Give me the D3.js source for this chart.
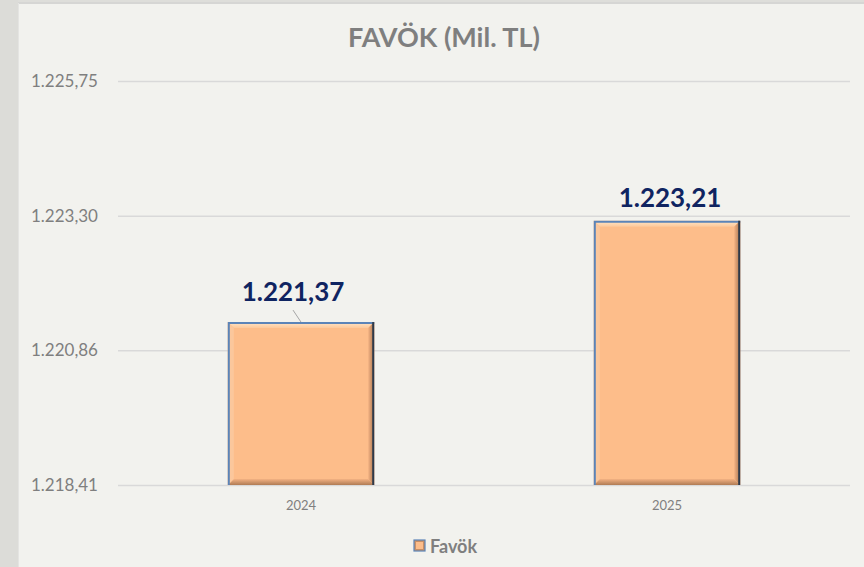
<!DOCTYPE html>
<html>
<head>
<meta charset="utf-8">
<script src="https://cdn.jsdelivr.net/npm/d3@7"></script>
<style>
  body { margin: 0; background: #dededa; }
  svg { display: block; }
</style>
</head>
<body>
<div id="chart"></div>
<script>
// Chart data
const categories = ["2024", "2025"];
const favokValues = [1221.37, 1223.21];
const yTicks = [1218.41, 1220.86, 1223.30, 1225.75];
const seriesName = "Favök";
const chartTitle = "FAVÖK (Mil. TL)";

const width = 864, height = 567;
const plot = {left: 118, right: 850, top: 81, bottom: 485};

// Turkish number format: 1.221,37
const trLocale = d3.formatLocale({decimal: ",", thousands: ".", grouping: [3], currency: ["", " TL"]});
const fmt = trLocale.format(",.2f");

let svg = d3.select("#chart")
            .append("svg")
            .attr("width", width)
            .attr("height", height);

// light texture strip on the left
svg.append("rect").attr("x", 0).attr("y", 0).attr("width", 18).attr("height", height).attr("fill", "#dcdcd8");
// chart panel
svg.append("rect").attr("x", 18).attr("y", 3).attr("width", width - 18).attr("height", height - 3).attr("fill", "#f2f2ee");
svg.append("line").attr("x1", 18).attr("x2", width).attr("y1", 3).attr("y2", 3)
   .attr("stroke", "#d6d6d4").attr("stroke-width", 2);
svg.append("line").attr("x1", 18.5).attr("x2", 18.5).attr("y1", 3).attr("y2", height)
   .attr("stroke", "#e4e4e2").attr("stroke-width", 1);

// Scales
let xScale = d3.scaleBand()
               .domain(categories)
               .range([plot.left, plot.right])
               .paddingInner(0.6)
               .paddingOuter(0.3);

let yScale = d3.scaleLinear()
               .domain([yTicks[0], yTicks[yTicks.length - 1]])
               .range([plot.bottom, plot.top]);

// Gridlines + y labels
let yAxis = svg.append("g")
               .attr("transform", `translate(${plot.left},0)`)
               .call(d3.axisLeft(yScale).tickValues(yTicks).tickFormat(fmt)
                       .tickSize(-(plot.right - plot.left)).tickPadding(20));
yAxis.select(".domain").remove();
yAxis.selectAll(".tick line").attr("stroke", "#d9d9d9").attr("stroke-width", 1.5);
yAxis.selectAll(".tick text")
     .attr("fill", "#7f7f7f")
     .style("font-family", "Lato, 'Open Sans', sans-serif")
     .style("font-size", "17px");

// x labels
let xAxis = svg.append("g")
               .attr("transform", `translate(0,${plot.bottom})`)
               .call(d3.axisBottom(xScale).tickSize(0).tickPadding(16));
xAxis.select(".domain").remove();
xAxis.selectAll(".tick text")
     .attr("fill", "#7f7f7f")
     .style("font-family", "Lato, 'Open Sans', sans-serif")
     .style("font-size", "13px");

// Gradients for the bevelled bar edges
const defs = svg.append("defs");
const gradRight = defs.append("linearGradient").attr("id", "bevRight");
gradRight.append("stop").attr("offset", "0%").attr("stop-color", "#f3b283");
gradRight.append("stop").attr("offset", "100%").attr("stop-color", "#a8754f");
const gradBottom = defs.append("linearGradient").attr("id", "bevBottom")
                       .attr("x1", 0).attr("y1", 0).attr("x2", 0).attr("y2", 1);
gradBottom.append("stop").attr("offset", "0%").attr("stop-color", "#f3b283");
gradBottom.append("stop").attr("offset", "100%").attr("stop-color", "#b07c55");
const gradTop = defs.append("linearGradient").attr("id", "bevTop")
                    .attr("x1", 0).attr("y1", 0).attr("x2", 0).attr("y2", 1);
gradTop.append("stop").attr("offset", "0%").attr("stop-color", "#ffe6c8");
gradTop.append("stop").attr("offset", "100%").attr("stop-color", "#fdc89a");

// Bars with a bevel look
const bw = xScale.bandwidth();
const bevel = 6;
const bars = svg.selectAll(".bar")
                .data(categories.map((c, i) => ({cat: c, value: favokValues[i]})))
                .enter()
                .append("g")
                .attr("class", "bar");

bars.append("rect")
    .attr("x", d => xScale(d.cat))
    .attr("y", d => yScale(d.value))
    .attr("width", bw)
    .attr("height", d => plot.bottom - yScale(d.value))
    .attr("fill", "#fdbd8a");
// top bevel (light)
bars.append("path")
    .attr("d", d => {
        const x0 = xScale(d.cat), y0 = yScale(d.value);
        return `M${x0},${y0}H${x0 + bw}L${x0 + bw - bevel},${y0 + bevel}H${x0 + bevel}Z`;
    })
    .attr("fill", "url(#bevTop)");
// right bevel (dark)
bars.append("path")
    .attr("d", d => {
        const x0 = xScale(d.cat), y0 = yScale(d.value);
        return `M${x0 + bw},${y0}V${plot.bottom}L${x0 + bw - bevel},${plot.bottom - bevel}V${y0 + bevel}Z`;
    })
    .attr("fill", "url(#bevRight)");
// bottom bevel (dark)
bars.append("path")
    .attr("d", d => {
        const x0 = xScale(d.cat);
        return `M${x0},${plot.bottom}H${x0 + bw}L${x0 + bw - bevel},${plot.bottom - bevel}H${x0 + bevel}Z`;
    })
    .attr("fill", "url(#bevBottom)");
// left bevel (mid)
bars.append("path")
    .attr("d", d => {
        const x0 = xScale(d.cat), y0 = yScale(d.value);
        return `M${x0},${y0}V${plot.bottom}L${x0 + bevel},${plot.bottom - bevel}V${y0 + bevel}Z`;
    })
    .attr("fill", "#fbc79c");
// blue-ish outline on top/left, dark on right
bars.append("path")
    .attr("d", d => {
        const x0 = xScale(d.cat), y0 = yScale(d.value);
        return `M${x0 + 1},${plot.bottom}V${y0 + 1}H${x0 + bw}`;
    })
    .attr("fill", "none").attr("stroke", "#5b84b8").attr("stroke-width", 2);
bars.append("line")
    .attr("x1", d => xScale(d.cat) + bw - 1).attr("x2", d => xScale(d.cat) + bw - 1)
    .attr("y1", d => yScale(d.value)).attr("y2", plot.bottom)
    .attr("stroke", "#2e3a4a").attr("stroke-width", 2);

// Data labels
const labelOffsets = [{dx: -8, dy: -21}, {dx: 3, dy: -14}];
bars.append("text")
    .attr("x", (d, i) => xScale(d.cat) + bw / 2 + labelOffsets[i].dx)
    .attr("y", (d, i) => yScale(d.value) + labelOffsets[i].dy)
    .attr("text-anchor", "middle")
    .attr("fill", "#0f2461")
    .style("font-family", "Lato, 'Open Sans', sans-serif")
    .style("font-weight", "bold")
    .style("font-size", "26px")
    .text(d => fmt(d.value));
// leader line for the first label
svg.append("line")
   .attr("x1", xScale(categories[0]) + bw / 2 - 8)
   .attr("y1", yScale(favokValues[0]) - 12)
   .attr("x2", xScale(categories[0]) + bw / 2)
   .attr("y2", yScale(favokValues[0]))
   .attr("stroke", "#a6a6a6").attr("stroke-width", 1);

// Title
svg.append("text")
   .attr("x", 444)
   .attr("y", 47)
   .attr("text-anchor", "middle")
   .attr("fill", "#7f7f7f")
   .style("font-family", "Lato, 'Open Sans', sans-serif")
   .style("font-weight", "bold")
   .style("font-size", "27px")
   .text(chartTitle);

// Legend
const legend = svg.append("g").attr("transform", "translate(414,540)");
legend.append("rect").attr("width", 11).attr("height", 11)
      .attr("fill", "#c98f65").attr("stroke", "#5b84b8").attr("stroke-width", 1.2);
legend.append("rect").attr("x", 2).attr("y", 2).attr("width", 7).attr("height", 7).attr("fill", "#fdbd8a");
legend.append("text")
      .attr("x", 16).attr("y", 6)
      .attr("dominant-baseline", "central")
      .attr("fill", "#7f7f7f")
      .style("font-family", "Lato, 'Open Sans', sans-serif")
      .style("font-weight", "bold")
      .style("font-size", "18px")
      .text(seriesName);
</script>
</body>
</html>
